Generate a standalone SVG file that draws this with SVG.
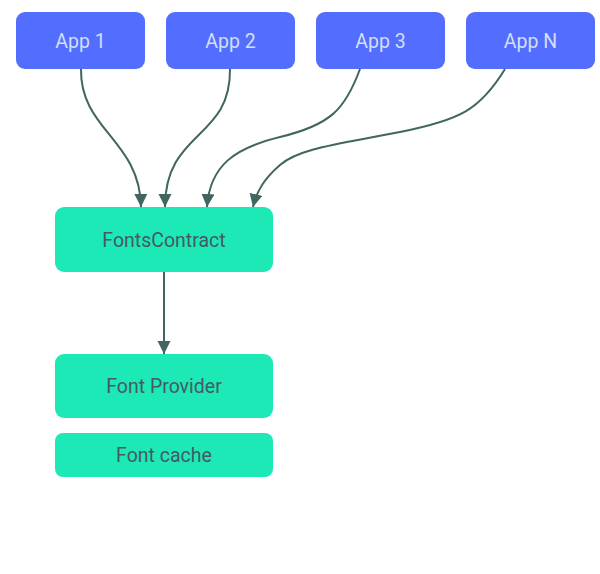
<svg xmlns="http://www.w3.org/2000/svg" width="600" height="574" viewBox="0 0 600 574">
<style>
.app rect{fill:#536dfe;}
.app text{fill:#d2defc;font-family:Roboto,"Liberation Sans",sans-serif;font-size:19.5px;text-anchor:middle;}
.fc rect{fill:#1de9b6;}
.fc text{fill:#455a64;font-family:Roboto,"Liberation Sans",sans-serif;font-size:19.5px;text-anchor:middle;}
.conn path{fill:none;stroke:#41655f;stroke-width:2;}
</style>
<defs>
<marker id="ah" markerUnits="userSpaceOnUse" markerWidth="14" markerHeight="14" viewBox="0 0 14 14" refX="13" refY="6.5" orient="auto">
<path d="M0,0 L13,6.5 L0,13 Z" fill="#41655f"/>
</marker>
</defs>
<rect width="600" height="574" fill="#fff"/>
<g id="app1" class="app"><rect x="16" y="12" width="129" height="57" rx="9"/><text x="80.5" y="48">App 1</text></g>
<g id="app2" class="app"><rect x="166" y="12" width="129" height="57" rx="9"/><text x="230.5" y="48">App 2</text></g>
<g id="app3" class="app"><rect x="316" y="12" width="129" height="57" rx="9"/><text x="380.5" y="48">App 3</text></g>
<g id="appN" class="app"><rect x="466" y="12" width="129" height="57" rx="9"/><text x="530.5" y="48">App N</text></g>
<g id="fontsContract" class="fc"><rect x="55" y="207" width="218" height="65" rx="9"/><text x="164" y="247">FontsContract</text></g>
<g id="fontProvider" class="fc"><rect x="55" y="354" width="218" height="64" rx="9"/><text x="164" y="393">Font Provider</text></g>
<g id="fontCache" class="fc"><rect x="55" y="433" width="218" height="44" rx="8"/><text x="164" y="462">Font cache</text></g>
<g id="connectors" class="conn">
<path d="M81,69 C80,130 140,140 141,207" marker-end="url(#ah)"/>
<path d="M230,69 C231,140 165,130 165,207" marker-end="url(#ah)"/>
<path d="M360,69 C345,110 330,125 280,137 C235,148 210,165 207,207" marker-end="url(#ah)"/>
<path d="M505,69 C480,110 460,120 400,132 C340,144 300,148 280,165 C265,178 257,190 253,207" marker-end="url(#ah)"/>
<path d="M164,272 L164,354" marker-end="url(#ah)"/>
</g>
</svg>
